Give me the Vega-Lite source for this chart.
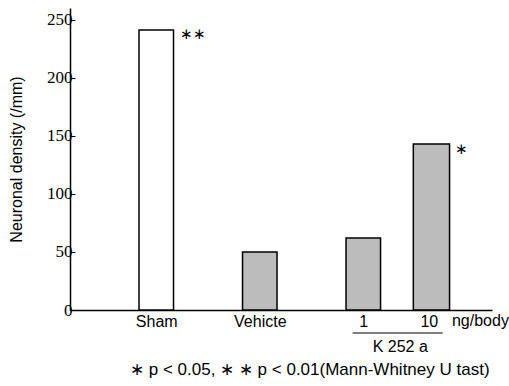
{
  "$schema": "https://vega.github.io/schema/vega-lite/v6.json",
  "width": 422,
  "height": 302,
  "autosize": "none",
  "padding": {"left": 70, "top": 8, "right": 17, "bottom": 76},
  "background": "white",
  "config": {
    "view": {"stroke": null},
    "font": "Liberation Sans",
    "text": {"font": "Liberation Sans"}
  },
  "encoding": {
    "x": {"field": "px", "type": "quantitative", "scale": {"domain": [0, 12.23], "nice": false, "zero": false}},
    "y": {"field": "py", "type": "quantitative", "scale": {"domain": [0, 260], "nice": false, "zero": false}}
  },
  "layer": [
    {
      "data": {"values": [
        {"group": "Sham", "start": 2, "end": 3, "density": 241, "fill": "open"},
        {"group": "Vehicte", "start": 5, "end": 6, "density": 50, "fill": "shaded"},
        {"group": "1", "start": 8, "end": 9, "density": 62, "fill": "shaded"},
        {"group": "10", "start": 9.95, "end": 11, "density": 143, "fill": "shaded"}
      ]},
      "mark": {"type": "bar", "stroke": "black", "strokeWidth": 1.5},
      "encoding": {
        "x": {
          "field": "start", "type": "quantitative",
          "scale": {"domain": [0, 12.23], "nice": false, "zero": false},
          "axis": {
            "values": [2.5, 5.5, 8.5, 10.4],
            "labelExpr": "datum.value == 2.5 ? 'Sham' : datum.value == 5.5 ? 'Vehicte' : datum.value == 8.5 ? '1' : '10'",
            "title": null, "grid": false, "ticks": false,
            "domainColor": "black", "domainWidth": 1.5,
            "labelFontSize": 16, "labelColor": "black", "labelPadding": 3,
            "labelFont": "Liberation Sans"
          }
        },
        "x2": {"field": "end"},
        "y": {
          "field": "density", "type": "quantitative",
          "scale": {"domain": [0, 260], "nice": false, "zero": false},
          "axis": {
            "values": [0, 50, 100, 150, 200, 250],
            "title": "Neuronal density (/mm)",
            "titleFontSize": 16, "titleFontWeight": "normal", "titleColor": "black",
            "titleFont": "Liberation Sans", "titlePadding": 22,
            "grid": false, "tickSize": -5, "tickColor": "black", "tickWidth": 1,
            "domainColor": "black", "domainWidth": 1.5,
            "labelFontSize": 17, "labelColor": "black", "labelPadding": 3,
            "labelFont": "Liberation Sans Narrow"
          }
        },
        "y2": {"datum": 0},
        "fill": {
          "field": "fill", "type": "nominal",
          "scale": {"domain": ["open", "shaded"], "range": ["white", "#bcbcbc"]},
          "legend": null
        }
      }
    },
    {
      "data": {"values": [
        {"label": "∗∗", "px": 3.2, "py": 238},
        {"label": "∗", "px": 11.15, "py": 139}
      ]},
      "mark": {"type": "text", "align": "left", "baseline": "middle", "fontSize": 15, "color": "black"},
      "encoding": {
        "text": {"field": "label"}
      }
    },
    {
      "data": {"values": [
        {"label": "ng/body", "px": 11.07, "py": -9.5}
      ]},
      "mark": {"type": "text", "align": "left", "baseline": "middle", "fontSize": 16, "color": "black", "clip": false},
      "encoding": {
        "text": {"field": "label"}
      }
    },
    {
      "data": {"values": [
        {"label": "K 252 a", "px": 9.57, "py": -32}
      ]},
      "mark": {"type": "text", "align": "center", "baseline": "middle", "fontSize": 16, "color": "black", "clip": false},
      "encoding": {
        "text": {"field": "label"}
      }
    },
    {
      "data": {"values": [
        {"label": "∗ p < 0.05,  ∗ ∗ p < 0.01(Mann-Whitney  U  tast)", "px": 6.95, "py": -52}
      ]},
      "mark": {"type": "text", "align": "center", "baseline": "middle", "fontSize": 17, "color": "black", "clip": false},
      "encoding": {
        "text": {"field": "label"}
      }
    },
    {
      "data": {"values": [{"px": 8.19, "px2": 10.8, "py": -19.8}]},
      "mark": {"type": "rule", "color": "black", "strokeWidth": 1.2},
      "encoding": {
        "x2": {"field": "px2"}
      }
    }
  ]
}
